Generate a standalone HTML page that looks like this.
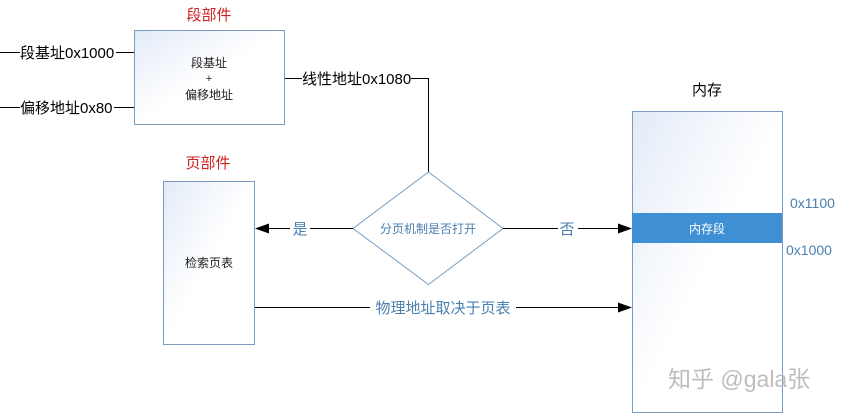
<!DOCTYPE html>
<html><head><meta charset="utf-8"><style>
html,body{margin:0;padding:0;background:#fff;}
svg{display:block;font-family:"Liberation Sans","Noto Sans CJK SC",sans-serif;}
</style></head><body>
<svg width="845" height="414" viewBox="0 0 845 414" xmlns="http://www.w3.org/2000/svg">
<defs>
<linearGradient id="g" x1="0" y1="0" x2="1" y2="1">
<stop offset="0" stop-color="#e3ebf7"/><stop offset="0.5" stop-color="#fff"/><stop offset="1" stop-color="#fff"/>
</linearGradient>
<marker id="a" markerWidth="14" markerHeight="12" refX="13" refY="6" orient="auto" markerUnits="userSpaceOnUse">
<path d="M0,1 L14,6 L0,11 Z" fill="#000"/></marker>
</defs>
<text x="209" y="20" font-size="15" fill="#d0201f" text-anchor="middle">段部件</text>
<rect x="134.5" y="30.5" width="150" height="94" fill="url(#g)" stroke="#7a9cc0"/>
<text x="209" y="67" font-size="12" text-anchor="middle" fill="#222">段基址</text>
<text x="209" y="82" font-size="11" text-anchor="middle" fill="#222">+</text>
<text x="209" y="99" font-size="12" text-anchor="middle" fill="#222">偏移地址</text>
<line x1="0" y1="52.5" x2="20" y2="52.5" stroke="#000"/>
<text x="20" y="58" font-size="15" fill="#000">段基址0x1000</text>
<line x1="116" y1="52.5" x2="134" y2="52.5" stroke="#000"/>
<line x1="0" y1="107.5" x2="20" y2="107.5" stroke="#000"/>
<text x="20" y="113" font-size="15" fill="#000">偏移地址0x80</text>
<line x1="114" y1="107.5" x2="134" y2="107.5" stroke="#000"/>
<line x1="285" y1="78.5" x2="302" y2="78.5" stroke="#000"/>
<text x="302" y="84" font-size="15" fill="#000">线性地址0x1080</text>
<line x1="411" y1="78.5" x2="428.5" y2="78.5" stroke="#000"/>
<line x1="428.5" y1="78" x2="428.5" y2="172" stroke="#000"/>
<text x="208" y="168" font-size="15" fill="#d0201f" text-anchor="middle">页部件</text>
<rect x="163.5" y="181.5" width="91" height="163" fill="url(#g)" stroke="#7a9cc0"/>
<text x="209" y="267" font-size="12" text-anchor="middle" fill="#222">检索页表</text>
<polygon points="428.5,172 503,228.5 428.5,284.5 353,228.5" fill="#fff" stroke="#7a9cc0"/>
<text x="428" y="233" font-size="12" text-anchor="middle" fill="#4a7fae">分页机制是否打开</text>
<line x1="353" y1="228.5" x2="256" y2="228.5" stroke="#000" marker-end="url(#a)"/>
<rect x="290" y="218" width="20" height="20" fill="#fff"/>
<text x="300" y="234" font-size="15" text-anchor="middle" fill="#4a7fae">是</text>
<line x1="503" y1="228.5" x2="631" y2="228.5" stroke="#000" marker-end="url(#a)"/>
<rect x="558" y="218" width="20" height="20" fill="#fff"/>
<text x="567" y="234" font-size="15" text-anchor="middle" fill="#4a7fae">否</text>
<line x1="255" y1="307.5" x2="631" y2="307.5" stroke="#000" marker-end="url(#a)"/>
<rect x="370" y="297" width="146" height="20" fill="#fff"/>
<text x="443" y="313" font-size="15" text-anchor="middle" fill="#4a7fae">物理地址取决于页表</text>
<text x="707" y="95" font-size="15" text-anchor="middle" fill="#000">内存</text>
<rect x="632.5" y="111.5" width="150" height="301" fill="url(#g)" stroke="#7a9cc0"/>
<rect x="632" y="213" width="150" height="30" fill="#3f8fd4"/>
<text x="707" y="233" font-size="12" text-anchor="middle" fill="#fff">内存段</text>
<text x="790" y="208" font-size="14" fill="#4a7fae">0x1100</text>
<text x="786" y="255" font-size="14" fill="#4a7fae">0x1000</text>
<text x="668" y="387" font-size="23" fill="#bdbdbd">知乎 @gala张</text>
</svg>
</body></html>
